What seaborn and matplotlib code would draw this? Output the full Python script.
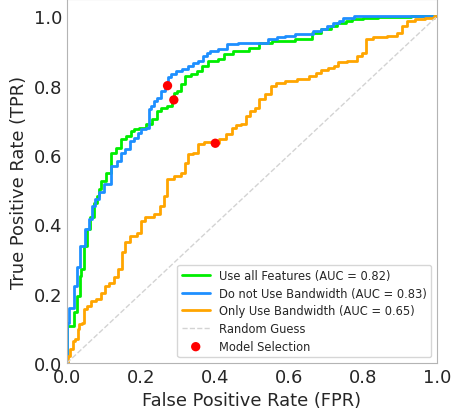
import numpy as np
import seaborn as sns
import matplotlib.pyplot as plt
import pandas as pd

# ROC curves (fpr, tpr)
fpr_all = [0.0, 0.0, 0.0, 0.018, 0.018, 0.027, 0.027, 0.036, 0.036, 0.042, 0.05, 0.059, 0.068, 0.077,
           0.086, 0.089, 0.098, 0.112, 0.125, 0.139, 0.152, 0.170, 0.175, 0.188, 0.202, 0.224, 0.238,
           0.251, 0.26, 0.283, 0.287, 0.292, 0.305, 0.314, 0.324, 0.346, 0.359, 0.373, 0.391, 0.423,
           0.427, 0.472, 0.513, 0.526, 0.58, 0.652, 0.67, 0.702, 0.724, 0.738, 0.769, 0.774, 0.824,
           0.859, 1.0]
tpr_all = [0.0, 0.06, 0.107, 0.107, 0.146, 0.146, 0.194, 0.194, 0.252, 0.271, 0.338, 0.386, 0.42,
           0.463, 0.482, 0.501, 0.525, 0.549, 0.607, 0.621, 0.645, 0.655, 0.669, 0.674, 0.679, 0.689,
           0.703, 0.727, 0.737, 0.742, 0.761, 0.78, 0.785, 0.804, 0.828, 0.833, 0.843, 0.857, 0.872,
           0.876, 0.89, 0.90, 0.91, 0.922, 0.93, 0.934, 0.953, 0.963, 0.972, 0.98, 0.986, 0.993, 0.996,
           0.998, 1.0]

fpr_nobw = [0.0, 0.0, 0.006, 0.006, 0.018, 0.018, 0.027, 0.027, 0.045, 0.054, 0.063, 0.072, 0.081,
            0.094, 0.107, 0.13, 0.143, 0.148, 0.166, 0.175, 0.188, 0.197, 0.206, 0.22, 0.222, 0.233,
            0.238, 0.251, 0.26, 0.269, 0.278, 0.287, 0.301, 0.319, 0.337, 0.346, 0.364, 0.373, 0.382,
            0.391, 0.423, 0.441, 0.486, 0.526, 0.562, 0.576, 0.603, 0.63, 0.657, 0.675, 0.697, 0.711,
            0.729, 0.742, 0.751, 0.80, 1.0]
tpr_nobw = [0.0, 0.117, 0.117, 0.16, 0.16, 0.223, 0.223, 0.276, 0.338, 0.386, 0.415, 0.453, 0.473,
            0.492, 0.516, 0.569, 0.583, 0.607, 0.617, 0.641, 0.65, 0.664, 0.674, 0.679, 0.732, 0.742,
            0.756, 0.765, 0.785, 0.804, 0.824, 0.833, 0.843, 0.847, 0.857, 0.866, 0.872, 0.885, 0.895,
            0.90, 0.905, 0.919, 0.924, 0.924, 0.934, 0.939, 0.944, 0.948, 0.95, 0.958, 0.963, 0.972,
            0.981, 0.986, 0.996, 1.0, 1.0]

fpr_bw = [0.0, 0.004, 0.013, 0.018, 0.027, 0.032, 0.036, 0.045, 0.05, 0.059, 0.072, 0.086, 0.099,
          0.108, 0.122, 0.135, 0.144, 0.153, 0.162, 0.18, 0.198, 0.203, 0.221, 0.248, 0.257, 0.266,
          0.275, 0.302, 0.315, 0.324, 0.329, 0.351, 0.356, 0.383, 0.401, 0.419, 0.441, 0.449, 0.463,
          0.476, 0.49, 0.499, 0.517, 0.522, 0.549, 0.553, 0.576, 0.603, 0.639, 0.67, 0.675, 0.697,
          0.715, 0.729, 0.738, 0.778, 0.792, 0.805, 0.81, 0.846, 0.882, 0.90, 0.909, 0.927, 0.954,
          0.981, 1.0]
tpr_bw = [0.0, 0.021, 0.04, 0.064, 0.069, 0.098, 0.112, 0.117, 0.156, 0.165, 0.18, 0.184, 0.203,
          0.223, 0.232, 0.247, 0.271, 0.319, 0.348, 0.367, 0.376, 0.41, 0.42, 0.429, 0.453, 0.482,
          0.53, 0.54, 0.549, 0.578, 0.602, 0.607, 0.631, 0.638, 0.634, 0.645, 0.66, 0.677, 0.686,
          0.689, 0.713, 0.727, 0.737, 0.761, 0.775, 0.799, 0.808, 0.813, 0.82, 0.828, 0.838, 0.845,
          0.85, 0.857, 0.869, 0.872, 0.885, 0.895, 0.934, 0.939, 0.944, 0.953, 0.972, 0.986, 0.991,
          0.996, 1.0]

labels = ['Use all Features (AUC = 0.82)', 'Do not Use Bandwidth (AUC = 0.83)',
          'Only Use Bandwidth (AUC = 0.65)']
palette = ['#00ee00', '#1e8fff', '#ffa500']

# chosen operating points
sel_fpr = [0.289, 0.272, 0.401]
sel_tpr = [0.759, 0.80, 0.634]

sns.set_style('white')
plt.rcParams['font.family'] = ['DejaVu Sans']
plt.rcParams['axes.edgecolor'] = '#b4b4b4'

fig = plt.figure(figsize=(4.61, 4.10), dpi=100)
ax = fig.add_subplot(111)

curves = [(fpr_all, tpr_all), (fpr_nobw, tpr_nobw), (fpr_bw, tpr_bw)]
for (fx, ty), lab, col in zip(curves, labels, palette):
    df = pd.DataFrame({'fpr': fx, 'tpr': ty})
    sns.lineplot(data=df, x='fpr', y='tpr', ax=ax, color=col, label=lab, lw=2,
                 estimator=None, sort=False, drawstyle='steps-mid')

sns.lineplot(x=[0, 1], y=[0, 1], ax=ax, color='lightgray', linestyle='--', lw=1,
             label='Random Guess', estimator=None, sort=False)
sns.scatterplot(x=sel_fpr, y=sel_tpr, ax=ax, color='red', s=45, edgecolor='none',
                label='Model Selection', zorder=5)

ax.set_xlim(0, 1)
ax.set_ylim(0, 1.05)
ax.set_xticks([0, 0.2, 0.4, 0.6, 0.8, 1.0])
ax.set_yticks([0, 0.2, 0.4, 0.6, 0.8, 1.0])
ax.tick_params(labelsize=13, length=0)
ax.set_xlabel('False Positive Rate (FPR)', fontsize=12.9)
ax.set_ylabel('True Positive Rate (TPR)', fontsize=12.9)
ax.legend(loc='lower right', fontsize=8.3, labelspacing=0.4, handlelength=2.4)

plt.subplots_adjust(left=0.145, right=0.948, top=1.0, bottom=0.112)
fig.savefig('out.png', dpi=100)
